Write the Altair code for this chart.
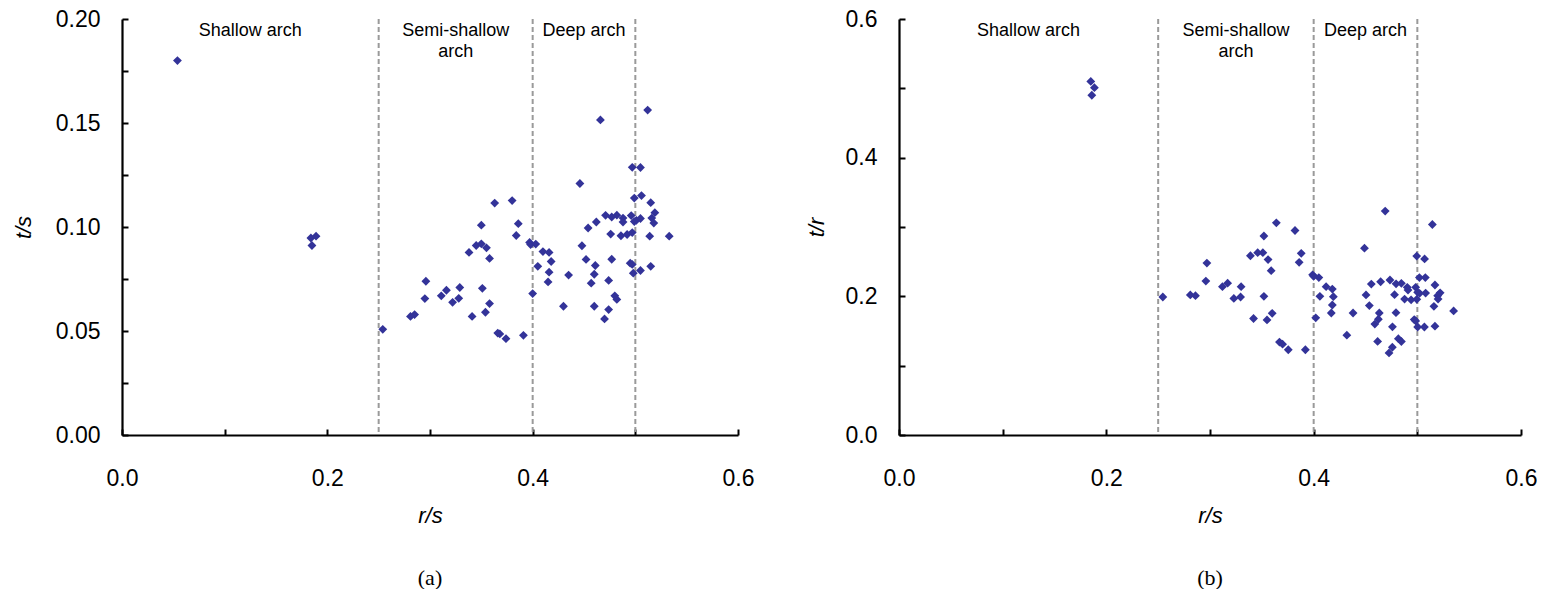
import altair as alt
import pandas as pd

# ---------------- data ----------------
# panel (a): r/s vs t/s
rs_a = [0.054, 0.184, 0.189, 0.185, 0.254, 0.281, 0.285, 0.296, 0.295, 0.311,
        0.316, 0.322, 0.328, 0.329, 0.338, 0.341, 0.345, 0.350, 0.355, 0.358,
        0.350, 0.363, 0.380, 0.386, 0.384, 0.351, 0.358, 0.354, 0.366, 0.368,
        0.374, 0.391, 0.397, 0.398, 0.403, 0.400, 0.410, 0.416, 0.405, 0.418,
        0.416, 0.415, 0.430, 0.435, 0.446, 0.448, 0.454, 0.462, 0.452, 0.461,
        0.460, 0.457, 0.466, 0.471, 0.477, 0.482, 0.476, 0.477, 0.474, 0.460,
        0.474, 0.470, 0.480, 0.482, 0.488, 0.488, 0.486, 0.492, 0.497, 0.497,
        0.505, 0.499, 0.506, 0.512, 0.515, 0.519, 0.496, 0.499, 0.501, 0.505,
        0.516, 0.518, 0.514, 0.533, 0.495, 0.497, 0.498, 0.505, 0.515]
ts_a = [0.1800, 0.0947, 0.0956, 0.0911, 0.0508, 0.0570, 0.0579, 0.0739, 0.0656, 0.0669,
        0.0696, 0.0638, 0.0657, 0.0709, 0.0878, 0.0570, 0.0911, 0.0919, 0.0900, 0.0849,
        0.1009, 0.1115, 0.1127, 0.1016, 0.0959, 0.0705, 0.0632, 0.0590, 0.0490, 0.0486,
        0.0463, 0.0479, 0.0926, 0.0916, 0.0918, 0.0680, 0.0882, 0.0878, 0.0811, 0.0834,
        0.0783, 0.0736, 0.0619, 0.0769, 0.1209, 0.0910, 0.0995, 0.1024, 0.0844, 0.0815,
        0.0773, 0.0730, 0.1515, 0.1056, 0.1048, 0.1057, 0.0966, 0.0845, 0.0743, 0.0619,
        0.0603, 0.0558, 0.0669, 0.0652, 0.1043, 0.1024, 0.0958, 0.0964, 0.0973, 0.1287,
        0.1286, 0.1139, 0.1151, 0.1562, 0.1117, 0.1069, 0.1055, 0.1026, 0.1032, 0.1041,
        0.1043, 0.1019, 0.0956, 0.0956, 0.0826, 0.0820, 0.0778, 0.0791, 0.0811]

# panel (b): r/s vs t/r
rs_b = [0.185, 0.1885, 0.186, 0.2545, 0.281, 0.286, 0.297, 0.296, 0.312, 0.317,
        0.323, 0.3295, 0.330, 0.339, 0.342, 0.346, 0.351, 0.356, 0.359, 0.352,
        0.364, 0.382, 0.388, 0.386, 0.352, 0.360, 0.355, 0.367, 0.370, 0.3755,
        0.392, 0.399, 0.400, 0.405, 0.402, 0.412, 0.418, 0.406, 0.419, 0.418,
        0.417, 0.432, 0.438, 0.449, 0.4505, 0.4556, 0.4646, 0.4537, 0.4633, 0.4624,
        0.459, 0.469, 0.4736, 0.4795, 0.4846, 0.478, 0.4794, 0.476, 0.4617, 0.4759,
        0.4727, 0.4817, 0.4846, 0.4903, 0.491, 0.4877, 0.494, 0.4995, 0.4994, 0.507,
        0.502, 0.5077, 0.5145, 0.517, 0.522, 0.4984, 0.5003, 0.5022, 0.508, 0.5196,
        0.520, 0.516, 0.535, 0.497, 0.4984, 0.5003, 0.5068, 0.517]
tr_b = [0.510, 0.501, 0.490, 0.199, 0.202, 0.201, 0.248, 0.222, 0.214, 0.219,
        0.197, 0.199, 0.214, 0.2585, 0.168, 0.263, 0.263, 0.253, 0.237, 0.287,
        0.306, 0.295, 0.262, 0.249, 0.200, 0.1755, 0.166, 0.134, 0.131, 0.123,
        0.123, 0.231, 0.229, 0.227, 0.169, 0.214, 0.2105, 0.200, 0.1995, 0.1875,
        0.176, 0.144, 0.176, 0.2695, 0.202, 0.2177, 0.221, 0.1866, 0.176, 0.167,
        0.160, 0.323, 0.2235, 0.218, 0.2187, 0.2024, 0.1765, 0.156, 0.135, 0.1266,
        0.1184, 0.139, 0.1348, 0.213, 0.209, 0.196, 0.195, 0.1957, 0.258, 0.254,
        0.227, 0.227, 0.3036, 0.2163, 0.205, 0.213, 0.2058, 0.2043, 0.2047, 0.201,
        0.196, 0.1856, 0.179, 0.1665, 0.1645, 0.1558, 0.1558, 0.157]

# region boundaries (dashed lines) and names
region_edges = [0.0, 0.25, 0.4, 0.5]
region_names = ["Shallow arch", "Semi-shallow\narch", "Deep arch"]

# axis tick / label values
x_tick_vals = [0.0, 0.1, 0.2, 0.3, 0.4, 0.5, 0.6]
x_label_vals = [0.0, 0.2, 0.4, 0.6]
ya_tick_vals = [0.0, 0.025, 0.05, 0.075, 0.1, 0.125, 0.15, 0.175, 0.2]
ya_label_vals = [0.0, 0.05, 0.1, 0.15, 0.2]
yb_tick_vals = [0.0, 0.1, 0.2, 0.3, 0.4, 0.5, 0.6]
yb_label_vals = [0.0, 0.2, 0.4, 0.6]

FONT = "Liberation Sans"
SERIF = "Liberation Serif"
MARK_COLOR = "#333399"


def panel(rs, vals, ydom, ylabels, yticks, yfmt, ytitle, W, H, tag, ytitle_x):
    df = pd.DataFrame({"r": rs, "v": vals})
    rules = pd.DataFrame({"b": region_edges[1:]})
    regions = pd.DataFrame({
        "mid": [(region_edges[i] + region_edges[i + 1]) / 2 for i in range(len(region_names))],
        "name": region_names,
    })
    tagdf = pd.DataFrame({"tag": [tag]})

    xs = alt.Scale(domain=[0, 0.6], nice=False, zero=False)
    ys = alt.Scale(domain=ydom, nice=False, zero=False)

    x_lab_axis = alt.Axis(values=x_label_vals, format=".1f", ticks=False, tickSize=0,
                          grid=False, domainColor="black", domainWidth=2.2,
                          labelFont=FONT, labelFontSize=23, labelColor="black",
                          labelPadding=43, labelBaseline="middle", labelFlush=False,
                          labelOverlap=False,
                          titleFont=FONT, titleFontSize=22, titleFontStyle="italic",
                          titleFontWeight="normal", titleColor="black",
                          titleY=80, titleBaseline="middle")
    y_lab_axis = alt.Axis(values=ylabels, format=yfmt, ticks=False, tickSize=0,
                          grid=False, domainColor="black", domainWidth=2.2,
                          labelFont=FONT, labelFontSize=23, labelColor="black",
                          labelPadding=22, labelFlush=False, labelOverlap=False,
                          titleFont=FONT, titleFontSize=22, titleFontStyle="italic",
                          titleFontWeight="normal", titleColor="black",
                          titleX=ytitle_x, titleY=H / 2, titleBaseline="middle",
                          titleAngle=270)
    x_tick_axis = alt.Axis(orient="top", offset=-H, values=x_tick_vals, labels=False,
                           domain=False, ticks=True, tickSize=6, tickWidth=2,
                           tickColor="black", grid=False)
    y_tick_axis = alt.Axis(orient="right", offset=-W, values=yticks, labels=False,
                           domain=False, ticks=True, tickSize=6, tickWidth=2,
                           tickColor="black", grid=False)

    dashed = alt.Chart(rules).mark_rule(color="#9a9a9a", strokeWidth=2,
                                        strokeDash=[5, 3]).encode(
        x=alt.X("b:Q", scale=xs, axis=None))

    pts = alt.Chart(df).mark_point(shape="diamond", filled=True, size=78,
                                   color=MARK_COLOR, opacity=1, strokeWidth=0).encode(
        x=alt.X("r:Q", scale=xs, axis=x_lab_axis, title="r/s"),
        y=alt.Y("v:Q", scale=ys, axis=y_lab_axis, title=ytitle))

    tick_layer = alt.Chart(df).mark_point(opacity=0).encode(
        x=alt.X("r:Q", scale=xs, axis=x_tick_axis, title=None),
        y=alt.Y("v:Q", scale=ys, axis=y_tick_axis, title=None))

    region_txt = alt.Chart(regions).mark_text(font=FONT, fontSize=18, color="black",
                                              align="center", baseline="alphabetic",
                                              lineBreak="\n", lineHeight=21).encode(
        x=alt.X("mid:Q", scale=xs, axis=None),
        y=alt.value(17),
        text="name:N")

    tag_txt = alt.Chart(tagdf).mark_text(font=SERIF, fontSize=22, color="black",
                                         align="center", baseline="middle").encode(
        x=alt.value(W / 2), y=alt.value(H + 143), text="tag:N")

    return alt.layer(dashed, pts, tick_layer, region_txt, tag_txt).resolve_axis(
        x="independent", y="independent").properties(width=W, height=H)


left = panel(rs_a, ts_a, [0, 0.2], ya_label_vals, ya_tick_vals, ".2f", "t/s",
             616, 416, "(a)", -99)
right = panel(rs_b, tr_b, [0, 0.6], yb_label_vals, yb_tick_vals, ".1f", "t/r",
              622, 416, "(b)", -83)

chart = alt.hconcat(left, right, spacing=161, bounds="flush").properties(
    padding={"left": 12, "top": 8, "right": 0, "bottom": 0}
).configure_view(stroke=None)

chart.save("out.html", embed_options={"renderer": "svg", "actions": False})
